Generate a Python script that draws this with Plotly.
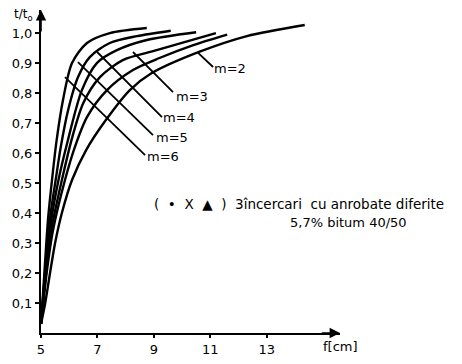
import plotly.graph_objects as go

# ---- tick labels ----
x_ticks = [5, 7, 9, 11, 13]
y_ticks = [0.1, 0.2, 0.3, 0.4, 0.5, 0.6, 0.7, 0.8, 0.9, 1.0]
y_ticktext = ["0,1", "0,2", "0,3", "0,4", "0,5", "0,6", "0,7", "0,8", "0,9", "1,0"]

# ---- curves (f [cm] vs t/t0) ----
x_c1 = [5, 5.12, 5.25, 5.39, 5.55, 5.78, 6.1, 6.63, 7.44, 8.75]
y_c1 = [0.03, 0.2, 0.38, 0.51, 0.64, 0.777, 0.9, 0.967, 1.0, 1.017]

x_m6 = [5, 5.14, 5.3, 5.52, 5.7, 5.96, 6.31, 6.73, 7.44, 8.4, 9.6]
y_m6 = [0.03, 0.2, 0.37, 0.51, 0.62, 0.743, 0.853, 0.92, 0.967, 0.99, 1.008]

x_m5 = [5, 5.16, 5.34, 5.62, 5.92, 6.45, 6.98, 7.69, 8.75, 10.5]
y_m5 = [0.03, 0.2, 0.36, 0.51, 0.63, 0.81, 0.9, 0.943, 0.977, 1.003]

x_m4 = [5, 5.18, 5.38, 5.74, 6.1, 6.5, 7.09, 7.9, 9.1, 11.2]
y_m4 = [0.03, 0.2, 0.35, 0.51, 0.65, 0.767, 0.853, 0.91, 0.943, 1.0]

x_m3 = [5, 5.2, 5.42, 5.85, 6.2, 6.63, 7.34, 8.26, 9.2, 10.4, 11.6]
y_m3 = [0.03, 0.2, 0.34, 0.51, 0.62, 0.72, 0.81, 0.877, 0.917, 0.96, 0.995]

x_m2 = [5, 5.15, 5.32, 5.5, 5.74, 6.1, 6.6, 7.3, 8.15, 8.9, 10.6, 12.3, 14.35]
y_m2 = [0.03, 0.1, 0.2, 0.3, 0.4, 0.51, 0.61, 0.71, 0.81, 0.865, 0.937, 0.99, 1.027]

curve_x = [x_c1, x_m6, x_m5, x_m4, x_m3, x_m2]
curve_y = [y_c1, y_m6, y_m5, y_m4, y_m3, y_m2]

# ---- curve labels and their leader lines (start on curve -> end near label) ----
label_text = ["m=2", "m=3", "m=4", "m=5", "m=6"]
label_pos = [(11.7, 0.883), (10.35, 0.79), (9.89, 0.717), (9.65, 0.653), (9.33, 0.59)]
leader_lines = [
    (10.56, 0.935, 11.1, 0.887),
    (8.26, 0.937, 9.68, 0.803),
    (6.99, 0.937, 9.29, 0.72),
    (6.31, 0.903, 8.97, 0.66),
    (5.85, 0.853, 8.69, 0.593),
]

FONT = "DejaVu Sans"

fig = go.Figure()
for xs, ys in zip(curve_x, curve_y):
    fig.add_trace(go.Scatter(
        x=xs, y=ys, mode="lines",
        line=dict(color="black", width=2.4, shape="spline", smoothing=0.8),
        showlegend=False, hoverinfo="skip"))

shapes = []
for x0, y0, x1, y1 in leader_lines:
    shapes.append(dict(type="line", xref="x", yref="y", x0=x0, y0=y0, x1=x1, y1=y1,
                       line=dict(color="black", width=1.8)))

annotations = []
for t, (lx, ly) in zip(label_text, label_pos):
    annotations.append(dict(x=lx, y=ly, xref="x", yref="y", text=t, showarrow=False,
                            xanchor="center", yanchor="middle",
                            font=dict(family=FONT, size=13, color="black")))

# axis arrows
annotations.append(dict(x=15.6, y=0, ax=14.9, ay=0, xref="x", yref="y", axref="x", ayref="y",
                        text="", showarrow=True, arrowhead=2, arrowsize=1.3, arrowwidth=1.6,
                        arrowcolor="black"))
annotations.append(dict(x=5, y=1.077, ax=5, ay=1.0, xref="x", yref="y", axref="x", ayref="y",
                        text="", showarrow=True, arrowhead=2, arrowsize=1.3, arrowwidth=1.6,
                        arrowcolor="black"))
# axis titles (paper coords, outside the plot area)
annotations.append(dict(x=-0.06, y=0.984, xref="paper", yref="paper", text="t/t<sub>o</sub>",
                        xanchor="center", yanchor="middle", showarrow=False,
                        font=dict(family=FONT, size=12, color="black")))
annotations.append(dict(x=1.003, y=-0.043, xref="paper", yref="paper", text="f[cm]",
                        xanchor="center", yanchor="middle", showarrow=False,
                        font=dict(family=FONT, size=13, color="black")))
# notes
annotations.append(dict(x=0.371, y=0.40, xref="paper", yref="paper", xanchor="left",
                        yanchor="middle",
                        text="(  •  X  ▲  )  3încercari  cu anrobate diferite",
                        showarrow=False, font=dict(family=FONT, size=13.5, color="black")))
annotations.append(dict(x=0.826, y=0.343, xref="paper", yref="paper", xanchor="left",
                        yanchor="middle", text="5,7% bitum 40/50",
                        showarrow=False, font=dict(family=FONT, size=13, color="black")))

# the page body adds an 8px offset, so the figure is 8px smaller on each side
fig.update_layout(
    width=454, height=356,
    margin=dict(l=33, r=122, t=2, b=31, autoexpand=False),
    plot_bgcolor="white", paper_bgcolor="white",
    shapes=shapes, annotations=annotations,
    xaxis=dict(range=[5, 15.6], showline=True, linecolor="black", linewidth=2,
               automargin=False,
               ticks="outside", ticklen=3, tickwidth=1.5, tickcolor="black",
               tickvals=x_ticks, ticktext=[str(v) for v in x_ticks],
               showgrid=False, zeroline=False,
               tickfont=dict(family=FONT, size=13, color="black")),
    yaxis=dict(range=[0, 1.077], showline=True, linecolor="black", linewidth=2,
               automargin=False,
               ticks="outside", ticklen=4, tickwidth=1.5, tickcolor="black",
               tickvals=y_ticks, ticktext=y_ticktext,
               showgrid=False, zeroline=False,
               tickfont=dict(family=FONT, size=13, color="black")),
)

fig.write_html("out.html")
